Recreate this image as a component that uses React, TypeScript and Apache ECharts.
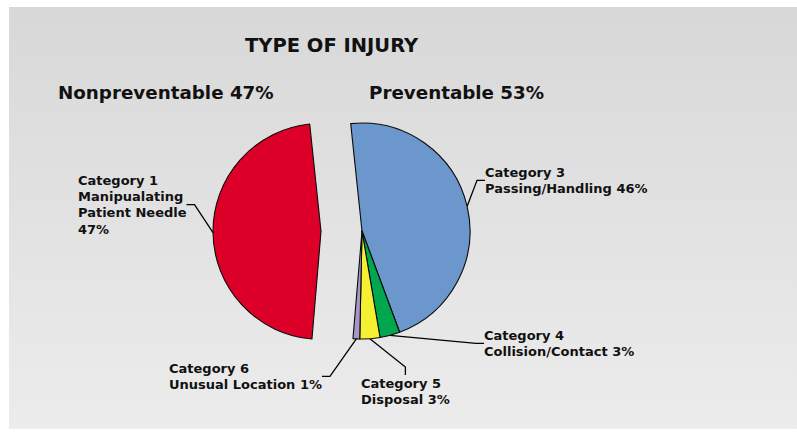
import React, { useEffect, useRef } from "react";
import * as echarts from "echarts";

const categories = ["Category 3", "Category 4", "Category 5", "Category 6", "Category 1"];
const descriptions = ["Passing/Handling", "Collision/Contact", "Disposal", "Unusual Location", "Manipualating\nPatient Needle"];
const values = [46, 3, 3, 1, 47];
const colors = ["#6c97cc", "#00a74f", "#f5f032", "#a797c9", "#dc0029"];
// which slices belong to the exploded (nonpreventable) part
const exploded = [false, false, false, false, true];

const titleText = "TYPE OF INJURY";
const groupLabels = ["Nonpreventable 47%", "Preventable 53%"];

// label anchor (left, top) per slice
const labelPos: [number, number][] = [
  [485, 164],
  [484, 327],
  [361, 375],
  [169, 360],
  [78, 172],
];

const FONT = "'DejaVu Sans', sans-serif";
const CENTER: [number, number] = [362, 231];
const OFFSET = 41;

export default function App() {
  const ref = useRef<HTMLDivElement>(null);
  useEffect(() => {
    if (!ref.current) return;
    const chart = echarts.init(ref.current, undefined, { renderer: "svg" });

    const makeData = (showExploded: boolean) =>
      values.map((v, i) => {
        const visible = exploded[i] === showExploded;
        return {
          name: categories[i],
          value: v,
          itemStyle: visible
            ? { color: colors[i], borderColor: "#0a0a0a", borderWidth: 1.1 }
            : { color: "rgba(0,0,0,0)", borderWidth: 0 },
          label: { show: visible },
          labelLine: { show: visible },
        };
      });

    // mid angle of exploded group, for the offset direction
    const total = values.reduce((a, b) => a + b, 0);
    let acc = 0;
    let midDeg = 0;
    values.forEach((v, i) => {
      if (exploded[i]) midDeg = 96 - ((acc + v / 2) / total) * 360;
      acc += v;
    });
    const rad = (midDeg * Math.PI) / 180;
    const exCenter: [number, number] = [
      CENTER[0] + OFFSET * Math.cos(rad),
      CENTER[1] - OFFSET * Math.sin(rad),
    ];

    const baseSeries = {
      type: "pie",
      radius: 108,
      startAngle: 96,
      clockwise: true,
      emphasis: { disabled: true },
      label: {
        position: "outside",
        fontFamily: FONT,
        fontWeight: "bold",
        fontSize: 13,
        lineHeight: 16.3,
        color: "#111",
        formatter: (p: any) => {
          const d = descriptions[p.dataIndex];
          return `${p.name}\n${d}${d.includes("\n") ? "\n" : " "}${p.value}%`;
        },
      },
      labelLine: {
        length: 10,
        length2: 8,
        lineStyle: { color: "#000", width: 1.3 },
      },
      labelLayout: (p: any) => ({
        x: labelPos[p.dataIndex][0],
        y: labelPos[p.dataIndex][1],
        align: "left",
        verticalAlign: "top",
      }),
    };

    chart.setOption({
      animation: false,
      graphic: [
        {
          type: "rect",
          z: -10,
          shape: { x: 9, y: 7, width: 788, height: 422 },
          style: {
            fill: new echarts.graphic.LinearGradient(0, 0, 0, 1, [
              { offset: 0, color: "#d9d8d8" },
              { offset: 1, color: "#ececec" },
            ]),
          },
        },
      ],
      title: [
        {
          text: titleText,
          left: 245,
          top: 35,
          padding: 0,
          textStyle: { fontFamily: FONT, fontWeight: "bold", fontSize: 19.5, color: "#111" },
        },
        {
          text: groupLabels[0],
          left: 58,
          top: 83,
          padding: 0,
          textStyle: { fontFamily: FONT, fontWeight: "bold", fontSize: 18.3, color: "#111" },
        },
        {
          text: groupLabels[1],
          left: 369,
          top: 83,
          padding: 0,
          textStyle: { fontFamily: FONT, fontWeight: "bold", fontSize: 18.3, color: "#111" },
        },
      ],
      series: [
        { ...baseSeries, name: "preventable", center: CENTER, data: makeData(false) },
        { ...baseSeries, name: "nonpreventable", center: exCenter, data: makeData(true) },
      ],
    });
    return () => chart.dispose();
  }, []);
  return (
    <div
      ref={ref}
      style={{ position: "absolute", left: 0, top: 0, width: 797, height: 434 }}
    />
  );
}
